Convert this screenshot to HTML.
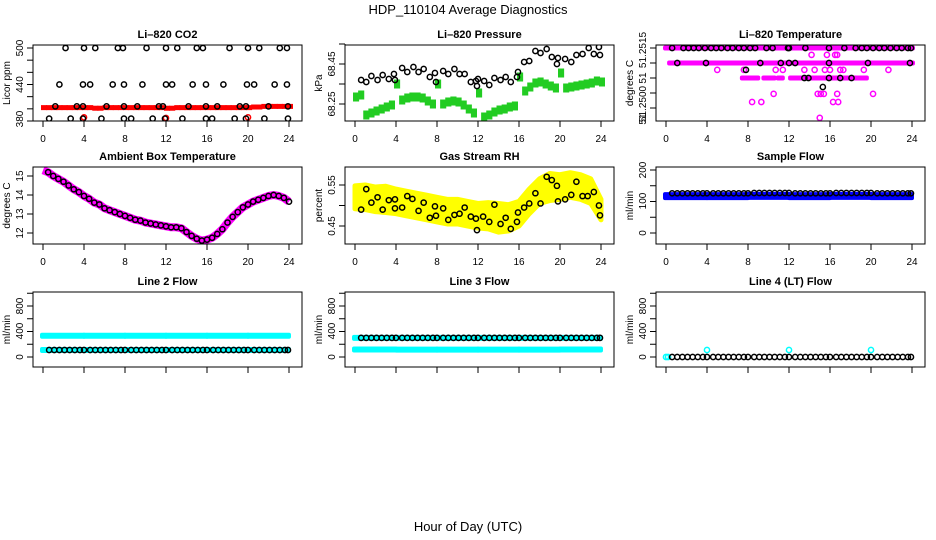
<!DOCTYPE html>
<html><head><meta charset="utf-8"><style>
html,body{margin:0;padding:0;background:#fff}
svg{display:block;font-family:"Liberation Sans",Arial,sans-serif}
</style></head><body>
<svg id="c" width="936" height="540" viewBox="0 0 936 540" xmlns="http://www.w3.org/2000/svg">
<rect width="936" height="540" fill="#fff"/>
<text x="468" y="14" text-anchor="middle" font-size="13">HDP_110104  Average Diagnostics</text>
<text x="468" y="531" text-anchor="middle" font-size="13">Hour of Day (UTC)</text>
</svg>
<script>
// ---------- data ----------
const xTicks=[0,4,8,12,16,20,24];
// CO2
const co2BlackT=[2.2,4,5.1,7.3,7.8,10.1,12,13.1,15,15.6,18.2,20,21.1,23.1,23.8,1.6,3.9,4.6,6.8,7.9,9.7,12,12.6,14.6,15.9,17.6,19.9,20.6,22.6,23.8,1.2,3.3,3.9,6.2,7.9,9.2,11.3,11.7,14.2,15.9,17.0,19.2,19.8,22.0,23.9,0.6,2.7,3.9,5.7,7.9,8.6,10.7,11.9,13.6,15.9,16.5,18.7,19.8,21.6,23.9];
const co2BlackV=[500,500,500,500,500,500,500,500,500,500,500,500,500,500,500,440,440,440,440,440,440,440,440,440,440,440,440,440,440,440,404,404,404,404,404,404,404,404,404,404,404,404,404,404,404,384,384,384,384,384,384,384,384,384,384,384,384,384,384,384];
const co2RedT=[0,0.5,1,1.5,2,2.5,3,3.5,4,4.5,5,5.5,6,6.5,7,7.5,8,8.5,9,9.5,10,10.5,11,11.5,12,12.5,13,13.5,14,14.5,15,15.5,16,16.5,17,17.5,18,18.5,19,19.5,20,20.5,21,21.5,22,22.5,23,23.5,24];
const co2RedV=[402,402,402,402,402,402,402,402,402,402,401,401,402,402,402,402,402,402,402,402,402,402,402,402,401,401,402,402,402,402,402,402,402,402,402,402,402,402,402,402,402,403,403,404,404,404,404,404,404];
const co2RedOutT=[4,12,20];
const co2RedOutV=[386,385,386];
// Pressure
const presBlackT=[0.6,1.1,1.6,2.2,2.7,3.3,3.8,3.9,4.6,5.1,5.7,6.2,6.7,7.3,7.8,7.9,8.6,9.1,9.7,10.2,10.7,11.3,11.8,11.9,12.0,12.6,13.1,13.6,14.2,14.7,15.2,15.8,15.9,16.5,17.0,17.6,18.1,18.7,19.2,19.7,19.8,20.5,21.1,21.6,22.2,22.8,23.3,23.8,23.9];
const presBlackV=[68.37,68.36,68.39,68.37,68.395,68.375,68.40,68.37,68.43,68.41,68.435,68.41,68.425,68.385,68.405,68.36,68.415,68.40,68.425,68.40,68.40,68.36,68.365,68.34,68.375,68.365,68.345,68.38,68.37,68.385,68.36,68.385,68.41,68.46,68.465,68.515,68.505,68.525,68.485,68.45,68.48,68.475,68.46,68.495,68.50,68.53,68.50,68.535,68.495];
const presGreenT=co2RedT;
const presGreenV=[68.285,68.295,68.195,68.205,68.215,68.225,68.235,68.245,68.35,68.27,68.28,68.285,68.285,68.28,68.265,68.25,68.35,68.25,68.26,68.265,68.26,68.245,68.225,68.205,68.305,68.185,68.195,68.21,68.22,68.225,68.235,68.24,68.385,68.315,68.335,68.355,68.36,68.35,68.34,68.33,68.405,68.33,68.335,68.34,68.345,68.35,68.355,68.365,68.36];
// Li-820 temperature
const tmpSegStart=[0,0.4,7.5,9.6,11,12.2];
const tmpSegEnd=[24,24,8.9,10.5,11.3,19.5];
const tmpSegV=[51.2515,51.2510,51.2505,51.2505,51.2505,51.2505];
const tmpMagT=[14.2,15.7,16.5,16.7,5,7.6,10.7,11.4,13.5,14.5,15.5,16,17,17.3,19.3,21.7,10.5,14.8,15.1,15.4,16.7,20.2,8.4,9.3,16.3,16.8,15];
const tmpMagV=[51.25127,51.25127,51.25127,51.25127,51.25077,51.25077,51.25077,51.25077,51.25077,51.25077,51.25077,51.25077,51.25077,51.25077,51.25077,51.25077,51.24997,51.24997,51.24997,51.24997,51.24997,51.24997,51.2497,51.2497,51.2497,51.2497,51.24917];
const tmpBlackT=[0.6,1.7,2.2,2.7,3.2,3.8,4.4,4.9,5.4,6.0,6.5,7.1,7.6,8.2,8.7,9.8,10.4,11.9,12.0,13.6,15.9,17.4,18.5,19.1,19.6,20.2,20.8,21.3,21.9,22.5,23.0,23.6,23.9,1.1,3.9,9.2,11.2,12,12.6,15.9,19.7,23.8,7.8,13.5,13.9,15.9,17,18.1,15.3];
const tmpBlackV=[51.2515,51.2515,51.2515,51.2515,51.2515,51.2515,51.2515,51.2515,51.2515,51.2515,51.2515,51.2515,51.2515,51.2515,51.2515,51.2515,51.2515,51.2515,51.2515,51.2515,51.2515,51.2515,51.2515,51.2515,51.2515,51.2515,51.2515,51.2515,51.2515,51.2515,51.2515,51.2515,51.2515,51.2510,51.2510,51.2510,51.2510,51.2510,51.2510,51.2510,51.2510,51.2510,51.25077,51.2505,51.2505,51.2505,51.2505,51.2505,51.2502];
// Ambient
const ambT=co2RedT;
const ambV=[15.3,15.2,15.0,14.85,14.7,14.5,14.3,14.15,13.95,13.8,13.6,13.5,13.3,13.2,13.1,13.0,12.9,12.8,12.7,12.65,12.55,12.5,12.45,12.4,12.35,12.3,12.3,12.25,12.05,11.85,11.7,11.6,11.65,11.75,11.95,12.2,12.55,12.85,13.1,13.35,13.5,13.65,13.75,13.85,13.95,14.0,13.95,13.85,13.65];
// RH
const rhT=[0,1,2,3,4,5,6,7,8,9,10,11,12,13,14,15,16,17,18,19,20,21,22,23,24];
const rhMean=[0.52,0.52,0.515,0.515,0.51,0.505,0.5,0.495,0.49,0.485,0.485,0.48,0.475,0.475,0.47,0.47,0.48,0.51,0.535,0.545,0.545,0.55,0.545,0.535,0.49];
const rhSpread=[0.028,0.03,0.03,0.032,0.03,0.03,0.03,0.03,0.03,0.03,0.03,0.03,0.03,0.032,0.035,0.032,0.03,0.03,0.03,0.033,0.03,0.03,0.03,0.03,0.025];
const rhBlackT=[0.6,1.1,1.6,2.2,2.7,3.3,3.9,3.9,4.6,5.1,5.6,6.2,6.7,7.3,7.8,7.9,8.6,9.1,9.7,10.2,10.7,11.3,11.8,11.9,12.5,13.1,13.6,14.2,14.7,15.2,15.8,15.9,16.5,17.0,17.6,18.1,18.7,19.2,19.7,19.8,20.5,21.1,21.6,22.2,22.7,23.3,23.8,23.9];
const rhBlackV=[0.49,0.54,0.507,0.52,0.49,0.513,0.515,0.493,0.495,0.523,0.516,0.487,0.507,0.47,0.498,0.475,0.493,0.465,0.477,0.48,0.495,0.473,0.468,0.44,0.473,0.46,0.502,0.455,0.47,0.443,0.46,0.483,0.495,0.505,0.53,0.505,0.57,0.562,0.548,0.51,0.515,0.526,0.558,0.523,0.523,0.533,0.5,0.476];
// Flows
const flowT=[0.6,1.1,1.6,2.1,2.6,3.1,3.6,4.0,4.6,5.1,5.6,6.1,6.6,7.1,7.6,8.0,8.6,9.1,9.6,10.1,10.6,11.1,11.6,12.0,12.6,13.1,13.6,14.1,14.6,15.1,15.6,16.0,16.6,17.1,17.6,18.1,18.6,19.1,19.6,20.0,20.6,21.1,21.6,22.1,22.6,23.1,23.6,23.9];
const sampleBlackV=[126,126,126,126,126,126,126,126,126,126,126,126,126,126,126,126,127,127,127,127,127,127,127,127,126,126,126,126,126,126,126,126,127,127,127,127,127,127,127,127,126,126,126,126,126,126,126,126];
const segS=[0,4.1,8.1,12.1,16.1,20.1];
const segE=[3.9,7.9,11.9,15.9,19.9,23.9];
const sampleBlueV=[117,117,118,117,118,117];
const line2UpperV=[334,334,334,334,334,334];
const line2LowerV=[110,110,110,110,110,110];
const line2BlackV=[110,110,110,110,110,110,110,110,110,110,110,110,110,110,110,110,110,110,110,110,110,110,110,110,110,110,110,110,110,110,110,110,110,110,110,110,110,110,110,110,110,110,110,110,110,110,110,110];
const line3UpperV=[300,300,300,300,300,300];
const line3LowerV=[118,116,116,116,116,118];
const line3BlackV=[300,300,300,300,300,300,300,300,300,300,300,300,300,300,300,300,300,300,300,300,300,300,300,300,300,300,300,300,300,300,300,300,300,300,300,300,300,300,300,300,300,300,300,300,300,300,300,300];
const line4BlackV=[0,0,0,0,0,0,0,0,0,0,0,0,0,0,0,0,0,0,0,0,0,0,0,0,0,0,0,0,0,0,0,0,0,0,0,0,0,0,0,0,0,0,0,0,0,0,0,0];
const line4OutT=[4,12,20];
const line4OutV=[110,110,110];

// ---------- drawing ----------
const svg=document.getElementById('c');
const NS='http://www.w3.org/2000/svg';
function el(tag,parent){const e=document.createElementNS(NS,tag);parent.appendChild(e);return e;}
function sa(e,o){for(const k in o)e.setAttribute(k,o[k]);return e;}
const colL=[33,345,656], rows=[[45,121],[167,244],[292,367]];

function panel(name,col,row,title,ylab,v1,y1,v2,y2,yt,yl,xlab){
  const L=colL[col],T=rows[row][0],B=rows[row][1],R=L+269;
  const g=el('g',svg);
  
  
  const sx=t=>L+10+t*246/24;
  const sy=v=>y1+(v-v1)*(y2-y1)/(v2-v1);
  const clip=el('clipPath',g);clip.id=name+'-clip';
  sa(el('rect',clip),{x:L,y:T,width:269,height:B-T});
  const plot=el('g',g);plot.setAttribute('clip-path','url(#'+name+'-clip)');
  
  
  const box=sa(el('rect',g),{x:L,y:T,width:269,height:B-T,fill:'none',stroke:'#000','stroke-width':1});
  
  
  const tt=sa(el('text',g),{x:L+134.5,y:T-7,'text-anchor':'middle','font-size':11,'font-weight':'bold'});
  tt.textContent=title;
  
  
  const yt2=sa(el('text',g),{transform:`translate(${L-23},${(T+B)/2}) rotate(-90)`,'text-anchor':'middle','font-size':10});
  yt2.textContent=ylab;
  
  
  // x axis
  const xa=el('g',g);
  sa(el('line',xa),{x1:sx(0),x2:sx(24),y1:B,y2:B,stroke:'#000'});
  xTicks.forEach(t=>{
    sa(el('line',xa),{x1:sx(t),x2:sx(t),y1:B,y2:B+6,stroke:'#000'});
    if(xlab){const tx=sa(el('text',xa),{x:sx(t),y:B+21,'text-anchor':'middle','font-size':10});tx.textContent=t;
      }
  });
  const ya=el('g',g);
  const ys=yt.map(sy);
  sa(el('line',ya),{x1:L,x2:L,y1:Math.min(...ys),y2:Math.max(...ys),stroke:'#000'});
  ys.forEach(y=>sa(el('line',ya),{x1:L-6,x2:L,y1:y,y2:y,stroke:'#000'}));
  yl.forEach(([lab,y])=>{const tx=sa(el('text',ya),{transform:`translate(${L-10},${y}) rotate(-90)`,'text-anchor':'middle','font-size':10});tx.textContent=lab;
    });
  return {sx,sy,g:plot};
}
function circles(p,ts,vs,color,name,r){
  ts.forEach((t,i)=>{const c=sa(el('circle',p.g),{cx:p.sx(t),cy:p.sy(vs[i]),r:r||2.6,fill:'none',stroke:color,'stroke-width':1.5});
    });
}
function band(p,ts,vs,color,h,name){
  ts.forEach((t,i)=>{const w=i<ts.length-1?p.sx(ts[i+1])-p.sx(t):5;
    const r=sa(el('rect',p.g),{x:p.sx(t)-2,y:p.sy(vs[i])-h/2,width:w+1,height:h,fill:color});
    });
}
function segs(p,s,e,vs,color,h,name){
  s.forEach((a,i)=>{const r=sa(el('rect',p.g),{x:p.sx(a)-3,y:p.sy(vs[i])-h/2,width:p.sx(e[i])-p.sx(a)+6,height:h,rx:2,fill:color});
    });
}

// CO2
let p=panel('co2',0,0,'Li–820 CO2','Licor ppm',500,48,380,121,[380,400,420,440,460,480,500],[['380',119],['440',sy0(440)],['500',48]],true);
function sy0(v){return 48+(v-500)*(121-48)/(380-500);}
band(p,co2RedT,co2RedV,'#ff0000',5,'co2-red-band');
circles(p,co2RedOutT,co2RedOutV,'#ff0000','co2-red-point');
circles(p,co2BlackT,co2BlackV,'#000','co2-black-point');
// Pressure
p=panel('pressure',1,0,'Li–820 Pressure','kPa',68.25,104,68.45,64,[68.25,68.35,68.45,68.55],[['68.25',104],['68.45',64]],true);
band(p,presGreenT,presGreenV,'#22cc22',9,'pressure-green-band');
circles(p,presBlackT,presBlackV,'#000','pressure-black-point');
// Temperature
p=panel('li820-temp',2,0,'Li–820 Temperature','degrees C',51.2515,48,51.2500,93,[51.2495,51.25,51.2505,51.251,51.2515],[['51.2515',50],['51',78],['51.2500',104],['51',119]],true);
segs(p,tmpSegStart,tmpSegEnd,tmpSegV,'#ff00ff',5,'temp-magenta-band');
circles(p,tmpMagT,tmpMagV,'#ff00ff','temp-magenta-point');
circles(p,tmpBlackT,tmpBlackV,'#000','temp-black-point');
// Ambient
p=panel('ambient',0,1,'Ambient Box Temperature','degrees C',15,176,12,233,[12,13,14,15],[['12',233],['13',214],['14',195],['15',176]],true);
{const pl=sa(el('polyline',p.g),{points:ambT.map((t,i)=>p.sx(t)+','+p.sy(ambV[i])).join(' '),fill:'none',stroke:'#ff00ff','stroke-width':8,'stroke-linejoin':'round'});
}
circles(p,ambT.slice(1),ambV.slice(1),'#000','ambient-black-point');
// RH
p=panel('rh',1,1,'Gas Stream RH','percent',0.55,185,0.45,226,[0.45,0.5,0.55],[['0.45',226],['0.55',185]],true);
{const up=rhT.map((t,i)=>p.sx(t)+','+p.sy(rhMean[i]+rhSpread[i]));
 const dn=rhT.map((t,i)=>p.sx(t)+','+p.sy(rhMean[i]-rhSpread[i])).reverse();
 const pg=sa(el('polygon',p.g),{points:up.concat(dn).join(' '),fill:'#ffff00',stroke:'#ffff00','stroke-width':5,'stroke-linejoin':'round'});
 }
circles(p,rhBlackT,rhBlackV,'#000','rh-black-point');
// Sample flow
p=panel('sample-flow',2,1,'Sample Flow','ml/min',0,233,200,170,[0,50,100,150,200],[['0',233],['100',201],['200',170]],true);
segs(p,segS,segE,sampleBlueV,'#0000ff',8,'sample-blue-band');
circles(p,flowT,sampleBlackV,'#000','sample-black-point');
// Line 2
const fl=[0,200,400,600,800,1000];
p=panel('line2',0,2,'Line 2 Flow','ml/min',0,357,800,306,fl,[['0',357],['400',331],['800',306]],false);
segs(p,segS,segE,line2UpperV,'#00ffff',6,'line2-cyan-upper');
segs(p,segS,segE,line2LowerV,'#00ffff',6,'line2-cyan-lower');
circles(p,flowT,line2BlackV,'#000','line2-black-point');
// Line 3
p=panel('line3',1,2,'Line 3 Flow','ml/min',0,357,800,306,fl,[['0',357],['400',331],['800',306]],false);
segs(p,segS,segE,line3UpperV,'#00ffff',6,'line3-cyan-upper');
segs(p,segS,segE,line3LowerV,'#00ffff',6,'line3-cyan-lower');
circles(p,flowT,line3BlackV,'#000','line3-black-point');
// Line 4
p=panel('line4',2,2,'Line 4 (LT) Flow','ml/min',0,357,800,306,fl,[['0',357],['400',331],['800',306]],false);
circles(p,[0,0.2],[0,0],'#00ffff','line4-cyan-point');
circles(p,flowT,line4BlackV,'#000','line4-black-point');
circles(p,line4OutT,line4OutV,'#00ffff','line4-cyan-outlier');
</script>
</body></html>
